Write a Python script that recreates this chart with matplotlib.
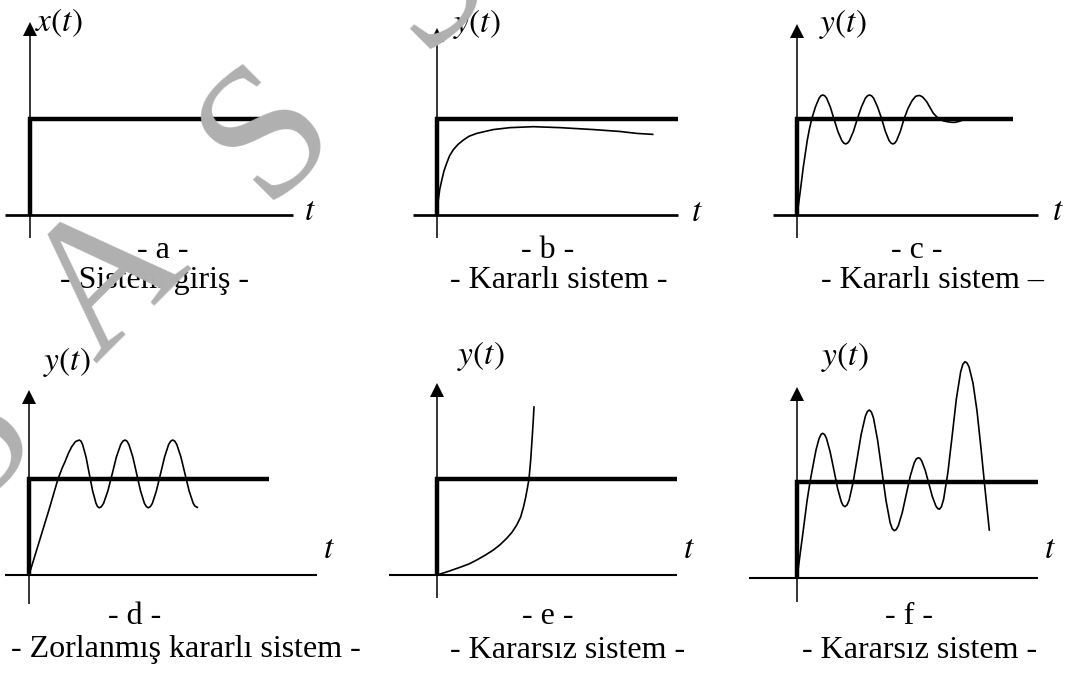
import matplotlib
matplotlib.use("Agg")
import matplotlib.pyplot as plt

plt.rcParams["mathtext.fontset"] = "stix"
plt.rcParams["font.family"] = ["Liberation Serif", "DejaVu Serif"]

# --- veriler (t: 10 px birim, y: basamak = 1) ---
step_end = [23.0, 24.1, 21.6, 24.0, 24.0, 24.1]

b_t = [0, 0.05, 0.13, 0.28, 0.47, 0.7, 0.97, 1.25, 1.63, 2.1, 2.63, 3.2, 3.97,
       5.63, 7.3, 9.63, 12.3, 15.63, 18.3, 19.97, 21.57]
b_y = [0, 0.07, 0.16, 0.27, 0.36, 0.46, 0.54, 0.615, 0.68, 0.735, 0.78, 0.82, 0.85,
       0.89, 0.91, 0.92, 0.91, 0.89, 0.87, 0.85, 0.84]

c_t = [0, 0.15, 0.3, 0.63, 1.03, 1.25, 1.47,
       1.84, 2.21, 2.39, 2.58, 2.77, 2.96, 3.33, 3.70,
       4.09, 4.48, 4.68, 4.87, 5.06, 5.25, 5.64, 6.03,
       6.44, 6.84, 7.05, 7.25, 7.45, 7.66, 8.06, 8.47,
       8.84, 9.21, 9.40, 9.59, 9.78, 9.96, 10.33, 10.7,
       11.1, 11.5, 11.85, 12.04, 12.23, 12.42, 12.6, 12.97, 13.3, 13.63, 14.0, 14.3,
       14.65, 15.03, 15.4, 15.8, 16.2, 16.63, 17.1, 17.63]
c_y = [0, 0.11, 0.226, 0.50, 0.78, 0.9, 1.0,
       1.125, 1.217, 1.242, 1.25, 1.242, 1.217, 1.125, 1.0,
       0.87, 0.775, 0.749, 0.74, 0.749, 0.775, 0.87, 1.0,
       1.125, 1.217, 1.242, 1.25, 1.242, 1.217, 1.125, 1.0,
       0.87, 0.775, 0.749, 0.74, 0.749, 0.775, 0.87, 1.0,
       1.11, 1.19, 1.235, 1.242, 1.245, 1.238, 1.225, 1.18, 1.12, 1.06, 1.02, 1.0,
       0.98, 0.972, 0.966, 0.965, 0.975, 0.99, 0.998, 1.0]

d_t = [0, 1.0, 2.0, 2.9, 3.3, 3.6, 3.95, 4.27, 4.65, 5.03,
       5.2, 5.36, 5.70, 6.03, 6.36, 6.70, 6.86, 7.03,
       7.24, 7.46, 7.89, 8.32, 8.74, 9.17, 9.39, 9.6,
       9.8, 9.99, 10.38, 10.77, 11.15, 11.54, 11.74, 11.93,
       12.13, 12.34, 12.74, 13.15, 13.56, 13.96, 14.17, 14.37,
       14.58, 14.78, 15.19, 15.6, 16.01, 16.42, 16.62, 16.83]
d_y = [0, 0.34, 0.68, 1.0, 1.11, 1.18, 1.27, 1.336, 1.39, 1.406,
       1.394, 1.359, 1.230, 1.053, 0.877, 0.747, 0.712, 0.700,
       0.712, 0.747, 0.877, 1.053, 1.230, 1.359, 1.394, 1.406,
       1.394, 1.359, 1.230, 1.053, 0.877, 0.747, 0.712, 0.700,
       0.712, 0.747, 0.877, 1.053, 1.230, 1.359, 1.394, 1.406,
       1.394, 1.359, 1.230, 1.053, 0.877, 0.747, 0.715, 0.705]

e_t = [0, 1.2, 2.3, 3.2, 3.97, 4.8, 5.63, 6.3, 6.97, 7.5, 7.97, 8.35, 8.63,
       8.85, 9.03, 9.2, 9.37, 9.53, 9.62, 9.7]
e_y = [0, 0.04, 0.08, 0.115, 0.156, 0.205, 0.26, 0.315, 0.382, 0.445, 0.52, 0.6, 0.7,
       0.8, 0.9, 1.0, 1.2, 1.45, 1.6, 1.75]

f_t = [0, 0.3, 0.63, 1.0, 1.3, 1.6, 1.9, 2.2, 2.4, 2.57,
       2.76, 2.94, 3.31, 3.69, 4.06, 4.43, 4.61, 4.8,
       5.0, 5.21, 5.61, 6.02, 6.42, 6.83, 7.03, 7.23,
       7.44, 7.65, 8.06, 8.48, 8.9, 9.31, 9.52, 9.73,
       9.93, 10.13, 10.53, 10.93, 11.33, 11.73, 11.93, 12.13,
       12.31, 12.48, 12.83, 13.18, 13.53, 13.88, 14.06, 14.23,
       14.44, 14.66, 15.09, 15.52, 15.94, 16.37, 16.59, 16.8,
       17.0, 17.2, 17.6, 18.0, 18.4, 18.8, 19.23]
f_y = [0, 0.24, 0.5, 0.8, 1.0, 1.17, 1.333, 1.45, 1.495, 1.507,
       1.494, 1.456, 1.316, 1.125, 0.934, 0.794, 0.756, 0.743,
       0.760, 0.810, 0.995, 1.247, 1.498, 1.683, 1.733, 1.75,
       1.729, 1.666, 1.436, 1.122, 0.807, 0.577, 0.514, 0.493,
       0.506, 0.544, 0.683, 0.873, 1.063, 1.202, 1.240, 1.253,
       1.244, 1.217, 1.119, 0.985, 0.850, 0.752, 0.725, 0.716,
       0.742, 0.819, 1.100, 1.485, 1.869, 2.150, 2.227, 2.253,
       2.24, 2.2, 2.03, 1.74, 1.35, 0.93, 0.5]

curves = [None, (b_t, b_y), (c_t, c_y), (d_t, d_y), (e_t, e_y), (f_t, f_y)]
axis_labels = ["$x(t)$", "$y(t)$", "$y(t)$", "$y(t)$", "$y(t)$", "$y(t)$"]
letters = ["- a -", "- b -", "- c -", "- d -", "- e -", "- f -"]
names = ["- Sistem giriş -", "- Kararlı sistem -", "- Kararlı sistem –",
         "- Zorlanmış kararlı sistem -", "- Kararsız sistem -", "- Kararsız sistem -"]

# --- yerleşim (piksel) ---
W, H = 1069, 673
origins = [(30, 215), (437, 215), (797, 215), (29, 575), (437, 575), (797, 578)]
xaxis_span = [(-2.5, 26.3), (-2.4, 24.1), (-2.4, 24.1), (-2.4, 28.8), (-4.8, 24.0), (-4.8, 24.1)]
yaxis_span = [(-0.24, 2.01), (-0.24, 1.95), (-0.24, 1.99), (-0.30, 1.93), (-0.24, 2.0), (-0.25, 1.99)]
xaxis_lw = [1.95, 1.95, 1.95, 1.5, 1.5, 1.5]
t_pos = [(28, 0.03), (26, 0.02), (26.1, 0.03), (30, 0.26), (25.2, 0.26), (25.3, 0.29)]
lab_pos = [(2.9, 2.0), (4.0, 1.99), (4.6, 1.99), (3.8, 2.22), (4.4, 2.28), (4.8, 2.30)]
letter_px = [(163, 250), (548, 250), (917, 250), (135, 617), (548, 617), (909, 617)]
name_px = [(155, 280), (559, 280), (932, 280), (186, 650), (568, 650), (920, 650)]

fig = plt.figure(figsize=(W / 100, H / 100), dpi=100)

for i, (ox, oy) in enumerate(origins):
    ax = fig.add_axes([(ox - 60) / W, 1 - (oy + 40) / H, 360 / W, 280 / H])
    ax.set_xlim(-6, 30)
    ax.set_ylim(-40 / 96, 240 / 96)
    ax.axis("off")

    x0, x1 = xaxis_span[i]
    ax.plot([x0, x1], [0, 0], color="black", lw=xaxis_lw[i], solid_capstyle="butt")
    y0, y1 = yaxis_span[i]
    ax.plot([0, 0], [y0, y1 - 0.1], color="black", lw=1.1, solid_capstyle="butt")
    ax.plot([0], [y1 - 0.073], marker="^", ms=10.5, color="black", mew=0)

    ax.plot([0, 0, step_end[i]], [0, 1, 1], color="black", lw=3.2,
            solid_joinstyle="miter", solid_capstyle="butt")

    if curves[i] is not None:
        ct, cy = curves[i]
        ax.plot(ct, cy, color="black", lw=1.2)

    ax.text(*t_pos[i], "$t$", fontsize=24, ha="center", va="center")
    ax.text(*lab_pos[i], axis_labels[i], fontsize=24, ha="center", va="center")

    fig.text(letter_px[i][0] / W, 1 - letter_px[i][1] / H, letters[i],
             fontsize=23, ha="center", va="center")
    fig.text(name_px[i][0] / W, 1 - name_px[i][1] / H, names[i],
             fontsize=23, ha="center", va="center")

# filigran (taban çizgisi ortası, piksel)
for ch, (px, py) in [("A", (144, 316)), ("S", (301, 166)), ("S", (458, 15)), ("S", (3, 470))]:
    fig.text(px / W, 1 - py / H, ch, fontsize=137, color="#b0b0b0", rotation=45,
             ha="center", va="baseline", rotation_mode="anchor", zorder=10)

fig.savefig("out.png", dpi=100)
